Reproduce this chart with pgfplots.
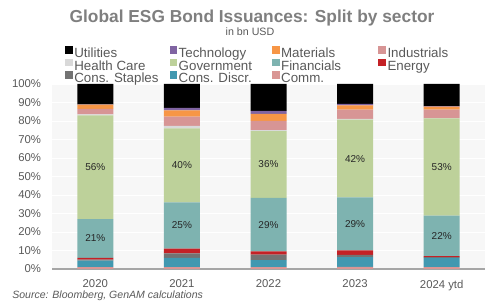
\documentclass[border=0pt]{standalone}
\usepackage{pgfplots}
\pgfplotsset{compat=1.18}
\usepackage{pgfplotstable}
\usepackage{fontspec}
\setmainfont{Liberation Sans}
\definecolor{cUtil}{HTML}{000000}
\definecolor{cTech}{HTML}{8064A2}
\definecolor{cMat}{HTML}{F79646}
\definecolor{cInd}{HTML}{D79595}
\definecolor{cHC}{HTML}{D9D9D9}
\definecolor{cGov}{HTML}{BDD19A}
\definecolor{cFin}{HTML}{7EB3B0}
\definecolor{cEn}{HTML}{C42126}
\definecolor{cSta}{HTML}{737373}
\definecolor{cDis}{HTML}{4198B0}
\definecolor{cCom}{HTML}{D99694}
\definecolor{titlec}{HTML}{7F7F7F}
\definecolor{textc}{HTML}{595959}
\definecolor{labc}{HTML}{262626}
\definecolor{bgc}{HTML}{F7F7F7}
\pgfplotstableread{
x Comm Discr Staples Energy Fin Gov HC Ind Mat Tech Util
0 1.0 3.5 0.6 0.9 21.0 56.0 0.6 3.0 2.2 0.2 11.0
1 1.0 5.0 2.5 2.5 25.0 40.0 1.3 5.0 3.5 1.3 12.9
2 1.0 3.8 3.0 1.7 29.0 36.0 0.6 5.0 3.8 1.6 14.5
3 1.2 5.2 1.2 2.5 28.6 42.0 0.5 5.0 2.3 0.7 10.8
4 1.0 5.0 0.4 0.5 22.0 52.5 0.2 4.5 1.6 0.3 12.0
}\data
\pgfplotstableread{
x y lab
0 16.5 21
1 23.5 25
2 24.0 29
3 24.4 29
4 17.9 22
0 55.0 56
1 56.0 40
2 56.5 36
3 59.7 42
4 55.2 53
}\labels
\begin{document}
\begin{tikzpicture}
\useasboundingbox (0,0) rectangle (363.75pt,229.5pt);
\pgfplotsset{
  myaxis/.style={
    scale only axis,
    width=324.75pt, height=138.75pt,
    at={(39pt,27.75pt)}, anchor=south west,
    xmin=-0.5, xmax=4.5, ymin=0, ymax=100,
  }
}
\begin{axis}[
  myaxis,
  ybar stacked, bar width=27pt,
  axis background/.style={fill=bgc},
  axis line style={draw=none},
  major tick length=0pt,
  xtick={0,1,2,3,4},
  xticklabels={2020,2021,2022,2023,2024 ytd},
  ytick={0,10,...,100},
  yticklabel={\pgfmathprintnumber{\tick}\%},
  /pgf/number format/assume math mode=true,
  ticklabel style={font=\fontsize{8.5}{10}\selectfont, text=textc},
  yticklabel style={inner sep=0pt, xshift=-8pt},
  xticklabel style={inner sep=0pt, yshift=-8pt},
  ymajorgrids,
  major grid style={draw=white, line width=0.7pt},
  extra y ticks={0}, extra y tick labels={},
  extra y tick style={grid=major, major grid style={draw=black!35, line width=0.9pt}},
  reverse legend,
  legend columns=4,
  legend cell align=left,
  legend image code/.code={\fill[#1] (0pt,0pt) rectangle (5.8pt,5.8pt);},
  legend style={at={(axis description cs:0.03,1.205)}, anchor=north west,
    draw=none, fill=none, inner sep=0pt,
    font=\fontsize{10}{11}\selectfont, text=textc,
    nodes={inner sep=0pt, text height=7.5pt, text depth=2pt},
    row sep=-1.3pt, column sep=0pt,
    /tikz/every odd column/.append style={column sep=1pt}},
]
\addplot[fill=cCom, draw=none] table[x=x, y=Comm] {\data};
\addlegendentry{\makebox[73pt][l]{Comm.}}
\addplot[fill=cDis, draw=none] table[x=x, y=Discr] {\data};
\addlegendentry{\makebox[70pt][l]{Cons. Discr.}}
\addplot[fill=cSta, draw=none] table[x=x, y=Staples] {\data};
\addlegendentry{\makebox[71.5pt][l]{Cons. Staples}}
\addplot[fill=cEn, draw=none] table[x=x, y=Energy] {\data};
\addlegendentry{Energy}
\addplot[fill=cFin, draw=none] table[x=x, y=Fin] {\data};
\addlegendentry{\makebox[73pt][l]{Financials}}
\addplot[fill=cGov, draw=none] table[x=x, y=Gov] {\data};
\addlegendentry{\makebox[70pt][l]{Government}}
\addplot[fill=cHC, draw=none] table[x=x, y=HC] {\data};
\addlegendentry{\makebox[71.5pt][l]{Health Care}}
\addplot[fill=cInd, draw=none] table[x=x, y=Ind] {\data};
\addlegendentry{Industrials}
\addplot[fill=cMat, draw=none] table[x=x, y=Mat] {\data};
\addlegendentry{\makebox[73pt][l]{Materials}}
\addplot[fill=cTech, draw=none] table[x=x, y=Tech] {\data};
\addlegendentry{\makebox[70pt][l]{Technology}}
\addplot[fill=cUtil, draw=none] table[x=x, y=Util] {\data};
\addlegendentry{\makebox[71.5pt][l]{Utilities}}
\end{axis}
\begin{axis}[
  myaxis, hide axis,
]
\addplot[draw=none, mark=none, point meta=explicit,
  nodes near coords={\pgfmathprintnumber{\pgfplotspointmeta}\%},
  nodes near coords align=center,
  every node near coord/.append style={font=\fontsize{7.5}{9}\selectfont, text=labc, inner sep=0pt, /pgf/number format/assume math mode=true}]
  table[x=x, y=y, meta=lab] {\labels};
\end{axis}
\node[anchor=base, font=\fontsize{13}{15}\selectfont\bfseries, text=titlec] at (189pt,212.5pt) {Global ESG Bond Issuances: Split by sector};
\node[anchor=base, font=\fontsize{8}{9}\selectfont, text=textc] at (187.5pt,202.7pt) {in bn USD};
\node[anchor=base west, font=\fontsize{7.9}{9}\selectfont\itshape, text=textc, inner sep=0pt] at (9pt,5.8pt) {Source: Bloomberg, GenAM calculations};
\end{tikzpicture}
\end{document}
